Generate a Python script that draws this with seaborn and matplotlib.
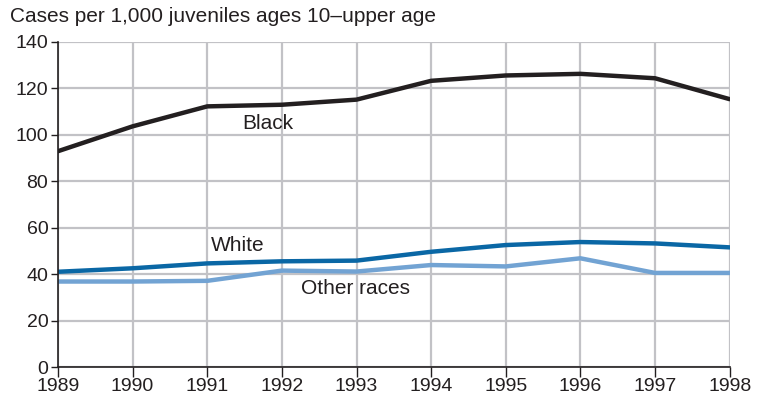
import numpy as np
import pandas as pd
import matplotlib
matplotlib.use("Agg")
import matplotlib.pyplot as plt
import seaborn as sns

years = [1989, 1990, 1991, 1992, 1993, 1994, 1995, 1996, 1997, 1998]
black = [92.9, 103.6, 112.2, 112.9, 115.1, 123.2, 125.5, 126.2, 124.3, 115.3]
white = [41.0, 42.5, 44.6, 45.5, 45.8, 49.6, 52.5, 53.8, 53.2, 51.5]
other = [36.8, 36.8, 37.1, 41.5, 41.1, 43.9, 43.3, 46.8, 40.5, 40.5]

series_names = ["Black", "White", "Other races"]
colors = {"Black": "#231f20", "White": "#0a67a5", "Other races": "#72a3d3"}

df = pd.DataFrame({
    "year": years * 3,
    "rate": black + white + other,
    "race": ["Black"] * 10 + ["White"] * 10 + ["Other races"] * 10,
})

sns.set_style("white")
plt.rcParams["font.family"] = ["Liberation Sans", "DejaVu Sans"]

fig = plt.figure(figsize=(7.65, 4.03), dpi=100)
ax = fig.add_axes([0.0758, 0.0893, 0.878, 0.807])

sns.lineplot(data=df, x="year", y="rate", hue="race", hue_order=series_names,
             palette=colors, linewidth=3.2, legend=False, ax=ax)

ax.set_xlim(1989, 1998)
ax.set_ylim(0, 140)
ax.set_xticks(years)
ax.set_yticks(np.arange(0, 141, 20))
ax.grid(True, color="#c2c2c6", linewidth=1.6)
ax.set_axisbelow(True)
for s in ["top", "right"]:
    ax.spines[s].set_visible(False)
for s in ["left", "bottom"]:
    ax.spines[s].set_color("#231f20")
    ax.spines[s].set_linewidth(1.2)
ax.tick_params(axis="x", direction="out", length=7, width=1, color="#231f20",
               labelsize=14, labelcolor="#231f20", pad=1)
ax.tick_params(axis="y", direction="out", length=5, width=1, color="#231f20",
               labelsize=14, labelcolor="#231f20", pad=2)
ax.tick_params(left=True, bottom=True)
ax.set_xlabel("")
ax.set_ylabel("")

ax.text(1991.81, 104.9, "Black", fontsize=15, color="#231f20", ha="center", va="center")
ax.text(1991.41, 52.2, "White", fontsize=15, color="#231f20", ha="center", va="center")
ax.text(1992.98, 33.7, "Other races", fontsize=15, color="#231f20", ha="center", va="center")

fig.text(10 / 765, 1 - 17 / 403, "Cases per 1,000 juveniles ages 10\u2013upper age",
         fontsize=15, color="#231f20", ha="left", va="center")

fig.savefig("out.png", dpi=100)
